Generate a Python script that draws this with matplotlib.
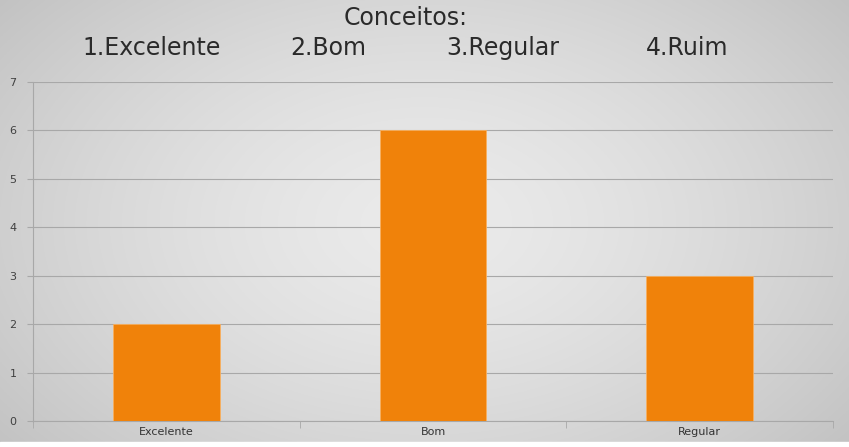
import matplotlib
matplotlib.use('Agg')
import matplotlib.pyplot as plt
import numpy as np

categories = ['Excelente', 'Bom', 'Regular']
values = [2, 6, 3]
yticks = [0, 1, 2, 3, 4, 5, 6, 7]
legend_items = ['1.Excelente', '2.Bom', '3.Regular', '4.Ruim']

W, H, DPI = 8.49, 4.47, 100
fig = plt.figure(figsize=(W, H), dpi=DPI)

# radial gray gradient background
bg = fig.add_axes([0, 0, 1, 1])
yy, xx = np.mgrid[0:1:300j, 0:1:600j]
r = np.sqrt(((xx - 0.5) / 0.65) ** 2 + ((yy - 0.5) / 0.8) ** 2)
r = np.clip(r, 0, 1)
shade = 0.92 - 0.16 * r ** 1.5
bg.imshow(np.dstack([shade] * 3), extent=[0, 1, 0, 1], aspect='auto', origin='lower')
bg.axhspan(0, 5 / 447, color='white')
bg.set_xlim(0, 1)
bg.set_ylim(0, 1)
bg.axis('off')

ax = fig.add_axes([33 / 849, 26 / 447, 800 / 849, 339 / 447])
ax.patch.set_alpha(0)
x = np.arange(len(categories))
ax.bar(x, values, width=0.40, color='#F0820A', edgecolor='#F8B060', linewidth=0.6, zorder=3)

ax.set_xlim(-0.5, len(categories) - 0.5)
ax.set_ylim(0, 7)
ax.set_yticks(yticks)
ax.set_yticklabels([str(v) for v in yticks], fontsize=8, color='#404040')
ax.grid(axis='y', color='#a8a8a8', lw=0.8, zorder=1)

ax.set_xticks(x)
ax.set_xticklabels(categories, fontsize=8, color='#333333')
ax.tick_params(axis='x', length=0, pad=4)
ax.tick_params(axis='y', length=4, color='#a8a8a8', pad=8)
# category separator ticks
ax.set_xticks(np.arange(len(categories) + 1) - 0.5, minor=True)
ax.tick_params(axis='x', which='minor', length=5, color='#a8a8a8')

for s in ['top', 'right']:
    ax.spines[s].set_visible(False)
ax.spines['left'].set_color('#a8a8a8')
ax.spines['bottom'].set_color('#a8a8a8')

fig.text(406 / 849, 1 - 18 / 447, 'Conceitos:', ha='center', va='center', fontsize=17, color='#2a2a2a')
for lab, px in zip(legend_items, [152, 328, 503, 687]):
    fig.text(px / 849, 1 - 48 / 447, lab, ha='center', va='center', fontsize=17, color='#2a2a2a')

plt.savefig('out.png', dpi=DPI)
